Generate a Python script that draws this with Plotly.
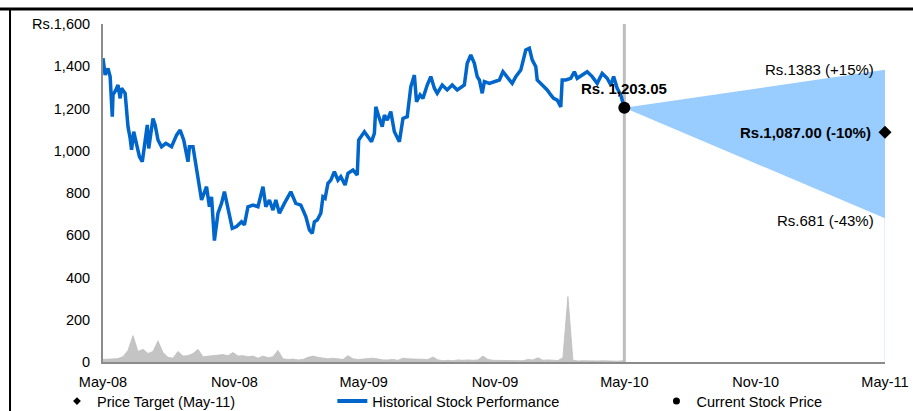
import plotly.graph_objects as go
import pandas as pd

# ---------------- data ----------------
price_dates = [
    "2008-05-01", "2008-05-04", "2008-05-08", "2008-05-11", "2008-05-14", "2008-05-15", "2008-05-19",
    "2008-05-22", "2008-05-25", "2008-05-27", "2008-06-01", "2008-06-03", "2008-06-05", "2008-06-08",
    "2008-06-10", "2008-06-13", "2008-06-16", "2008-06-21", "2008-06-25", "2008-06-28", "2008-07-02",
    "2008-07-04", "2008-07-10", "2008-07-13", "2008-07-17", "2008-07-22", "2008-07-28", "2008-08-05",
    "2008-08-12", "2008-08-17", "2008-08-22", "2008-08-28", "2008-08-30", "2008-09-04", "2008-09-09",
    "2008-09-12", "2008-09-16", "2008-09-23", "2008-09-27", "2008-09-30", "2008-10-04", "2008-10-09",
    "2008-10-14", "2008-10-18", "2008-10-23", "2008-10-29", "2008-11-04", "2008-11-11", "2008-11-15",
    "2008-11-20", "2008-11-27", "2008-12-04", "2008-12-11", "2008-12-15", "2008-12-20", "2008-12-25",
    "2008-12-29", "2009-01-03", "2009-01-10", "2009-01-19", "2009-01-26", "2009-02-02", "2009-02-09",
    "2009-02-14", "2009-02-18", "2009-02-21", "2009-02-25", "2009-03-02", "2009-03-05", "2009-03-08",
    "2009-03-12", "2009-03-16", "2009-03-21", "2009-03-26", "2009-03-30", "2009-04-05", "2009-04-09",
    "2009-04-16", "2009-04-22", "2009-04-24", "2009-05-02", "2009-05-07", "2009-05-12", "2009-05-16",
    "2009-05-18", "2009-05-23", "2009-05-27", "2009-05-30", "2009-06-03", "2009-06-08", "2009-06-13",
    "2009-06-20", "2009-06-25", "2009-07-01", "2009-07-06", "2009-07-11", "2009-07-14", "2009-07-19",
    "2009-07-23", "2009-07-29", "2009-08-03", "2009-08-08", "2009-08-12", "2009-08-19", "2009-08-26",
    "2009-09-02", "2009-09-09", "2009-09-19", "2009-09-23", "2009-09-28", "2009-10-03", "2009-10-07",
    "2009-10-10", "2009-10-14", "2009-10-17", "2009-10-24", "2009-10-31", "2009-11-07", "2009-11-12",
    "2009-11-18", "2009-11-25", "2009-11-30", "2009-12-07", "2009-12-14", "2009-12-19", "2009-12-23",
    "2009-12-28", "2009-12-30", "2010-01-06", "2010-01-13", "2010-01-18", "2010-01-22", "2010-01-27",
    "2010-02-01", "2010-02-03", "2010-02-08", "2010-02-15", "2010-02-20", "2010-02-24", "2010-03-03",
    "2010-03-10", "2010-03-17", "2010-03-24", "2010-03-31", "2010-04-07", "2010-04-12", "2010-04-16",
    "2010-04-21", "2010-04-26", "2010-05-01",
]
price_values = [
    1438, 1359, 1390, 1351, 1161, 1264, 1288,
    1311, 1248, 1296, 1272, 1193, 1114, 1059,
    1004, 1090, 1051, 972, 948, 1019, 1122,
    1011, 1153, 1122, 1051, 1019, 1035, 1019,
    1074, 1098, 1051, 948, 1019, 1019, 909,
    861, 767, 830, 735, 782, 575, 704,
    751, 806, 735, 633, 641, 664, 649,
    735, 743, 735, 830, 735, 767, 719,
    767, 704, 751, 806, 751, 743, 688,
    625, 609, 664, 672, 704, 782, 775,
    846, 861, 901, 861, 877, 838, 893,
    909, 885, 1051, 1090, 1067, 1043, 1082,
    1208, 1153, 1114, 1169, 1145, 1185, 1090,
    1043, 1153, 1161, 1303, 1358, 1232, 1264,
    1248, 1311, 1351, 1296, 1272, 1311, 1288,
    1311, 1288, 1311, 1414, 1453, 1414, 1351,
    1335, 1272, 1327, 1319, 1327, 1335, 1374,
    1351, 1319, 1351, 1382, 1477, 1485, 1430,
    1398, 1335, 1311, 1288, 1264, 1248, 1240,
    1208, 1335, 1335, 1343, 1374, 1343, 1358,
    1374, 1351, 1319, 1366, 1343, 1311, 1351,
    1296, 1264, 1203.05,
]

volume_dates = pd.date_range("2008-05-01", periods=105, freq="7D")
volume_values = [
    12, 14, 15, 16, 25, 55, 125, 50, 60, 40,
    50, 100, 45, 22, 18, 50, 28, 30, 40, 60,
    25, 28, 30, 32, 35, 30, 45, 28, 30, 25,
    28, 18, 28, 20, 25, 55, 15, 12, 14, 10,
    12, 22, 28, 22, 20, 15, 18, 15, 12, 30,
    15, 12, 14, 16, 18, 14, 10, 10, 12, 8,
    18, 15, 14, 12, 10, 12, 24, 10, 6, 8,
    6, 10, 8, 10, 8, 10, 28, 12, 8, 8,
    9, 7, 6, 7, 6, 12, 10, 20, 8, 10,
    8, 7, 20, 310, 8, 5, 6, 5, 4, 5,
    6, 5, 5, 4, 6,
]

current_date = "2010-05-01"
current_price = 1203.05
target_date = "2011-05-01"
target_high = 1383
target_mid = 1087.00
target_low = 681

current_label = "Rs. 1,203.05"
high_label = "Rs.1383 (+15%)"
mid_label = "Rs.1,087.00 (-10%)"
low_label = "Rs.681 (-43%)"

y_tickvals = [0, 200, 400, 600, 800, 1000, 1200, 1400, 1600]
y_ticktext = ["0", "200", "400", "600", "800", "1,000", "1,200", "1,400", "Rs.1,600"]
x_tickvals = ["2008-05-01", "2008-11-01", "2009-05-01", "2009-11-01",
              "2010-05-01", "2010-11-01", "2011-05-01"]
x_ticktext = ["May-08", "Nov-08", "May-09", "Nov-09", "May-10", "Nov-10", "May-11"]

# ---------------- figure ----------------
FONT = "Liberation Sans, Arial, sans-serif"
BLUE = "#0066CC"
FAN = "#99CCFF"

fig = go.Figure()

# volume area
fig.add_trace(go.Scatter(
    x=volume_dates, y=volume_values, mode="lines", fill="tozeroy",
    line=dict(color="#BEBEBE", width=0.8), fillcolor="#C4C4C4",
    showlegend=False, hoverinfo="skip"))

# fan
fig.add_trace(go.Scatter(
    x=[current_date, target_date, target_date, current_date],
    y=[current_price, target_high, target_low, current_price],
    mode="lines", fill="toself", fillcolor=FAN, line=dict(width=0, color=FAN),
    showlegend=False, hoverinfo="skip"))
fig.add_trace(go.Scatter(
    x=[target_date, target_date], y=[0, target_low], mode="lines",
    line=dict(color="#CFE6FF", width=1.2), showlegend=False, hoverinfo="skip"))

# price line
fig.add_trace(go.Scatter(
    x=price_dates, y=price_values, mode="lines",
    line=dict(color=BLUE, width=3.5), showlegend=False))

# current point
fig.add_trace(go.Scatter(
    x=[current_date], y=[current_price], mode="markers",
    marker=dict(color="black", size=12), showlegend=False))

# target diamond
fig.add_trace(go.Scatter(
    x=[target_date], y=[target_mid], mode="markers",
    marker=dict(color="black", size=10, symbol="diamond"),
    showlegend=False, cliponaxis=False))

# legend entries
fig.add_trace(go.Scatter(x=[None], y=[None], mode="markers", name="Price Target (May-11)",
                         marker=dict(color="black", size=6, symbol="diamond"), legend="legend"))
fig.add_trace(go.Scatter(x=[None], y=[None], mode="lines", name="Historical Stock Performance",
                         line=dict(color=BLUE, width=4), legend="legend2"))
fig.add_trace(go.Scatter(x=[None], y=[None], mode="markers", name="Current Stock Price",
                         marker=dict(color="black", size=7), legend="legend3"))

# vertical line at current date
fig.add_shape(type="line", xref="x", yref="y", x0=current_date, x1=current_date,
              y0=0, y1=1600, line=dict(color="#BDBDBD", width=3), layer="below")

# frame lines (top and left)
fig.add_shape(type="line", xref="paper", yref="paper", x0=-0.14, x1=1.05,
              y0=1.0444, y1=1.0444, line=dict(color="black", width=3))
fig.add_shape(type="line", xref="paper", yref="paper", x0=-0.1189, x1=-0.1189,
              y0=1.0444, y1=-0.2, line=dict(color="black", width=2))

ann_font = dict(family=FONT, size=15, color="black")
fig.add_annotation(x=current_date, y=current_price, text="<b>" + current_label + "</b>",
                   showarrow=False, xanchor="center", yanchor="middle", yshift=19, font=ann_font)
fig.add_annotation(x=target_date, y=target_high, text=high_label, showarrow=False,
                   xanchor="right", yanchor="middle", xshift=-9, yshift=0, font=ann_font)
fig.add_annotation(x=target_date, y=target_mid, text="<b>" + mid_label + "</b>", showarrow=False,
                   xanchor="right", yanchor="middle", xshift=-12, font=ann_font)
fig.add_annotation(x=target_date, y=target_low, text=low_label, showarrow=False,
                   xanchor="right", yanchor="middle", xshift=-9, yshift=-2, font=ann_font)

leg_common = dict(orientation="h", yanchor="middle", xanchor="left", y=0.024,
                  xref="container", yref="container",
                  font=dict(family=FONT, size=14.5, color="black"),
                  bgcolor="rgba(0,0,0,0)", borderwidth=0, itemclick=False)

fig.update_layout(
    width=913, height=411,
    margin=dict(l=103, r=28, t=24, b=49, autoexpand=False),
    plot_bgcolor="white", paper_bgcolor="white",
    font=dict(family=FONT, size=14.5, color="black"),
    showlegend=True,
    legend=dict(x=0.0624, **leg_common),
    legend2=dict(x=0.364, **leg_common),
    legend3=dict(x=0.719, **leg_common),
    xaxis=dict(type="date", range=["2008-05-01", "2011-05-01"],
               tickvals=x_tickvals, ticktext=x_ticktext,
               showgrid=False, zeroline=False, showline=True,
               linecolor="#8C8C8C", linewidth=2, ticks="",
               ticklabelstandoff=6,
               tickfont=dict(family=FONT, size=14.5, color="black")),
    yaxis=dict(range=[0, 1600], tickvals=y_tickvals, ticktext=y_ticktext,
               showgrid=False, zeroline=False, showline=True,
               linecolor="#8C8C8C", linewidth=2, ticks="",
               ticklabelstandoff=8,
               tickfont=dict(family=FONT, size=14.5, color="black")),
)

fig.write_html("out.html")
